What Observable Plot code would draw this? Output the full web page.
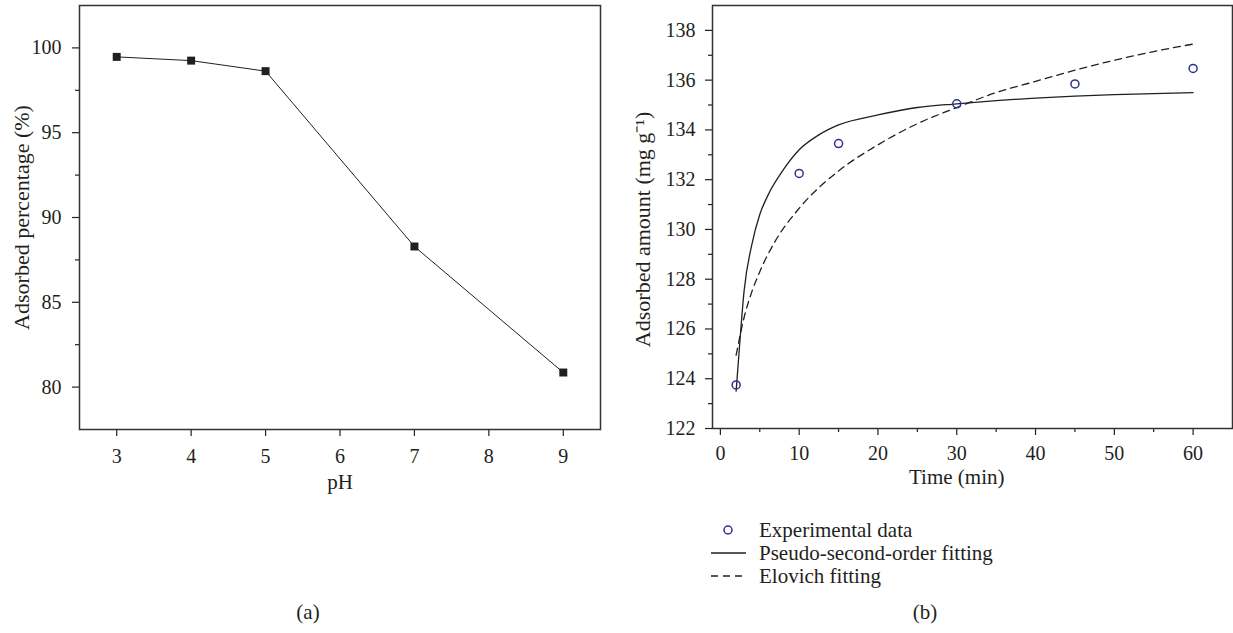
<!DOCTYPE html>
<html>
<head>
<meta charset="utf-8">
<script src="https://cdn.jsdelivr.net/npm/d3@7"></script>
<script src="https://cdn.jsdelivr.net/npm/@observablehq/plot@0.6"></script>
<style>
  html, body { margin: 0; padding: 0; background: #fff; }
  #page { position: relative; width: 1233px; height: 633px; overflow: hidden; font-family: "Liberation Serif", serif; color: #231f20; }
  #left, #right, #overlay { position: absolute; top: 0; }
  #left { left: 0; }
  #right { left: 616px; }
  #overlay { left: 0; }
  #page svg text { font-family: "Liberation Serif", serif !important; }
</style>
</head>
<body>
<div id="page">
  <div id="left"></div>
  <div id="right"></div>
  <svg id="overlay" width="1233" height="633"></svg>
</div>
<script>
// ---- Panel (a) data ----
const pH = [3, 4, 5, 7, 9];
const adsorbedPct = [99.47, 99.25, 98.63, 88.29, 80.86];
const pHTicks = [3, 4, 5, 6, 7, 8, 9];
const pctTicks = [80, 85, 90, 95, 100];
const pctMinorTicks = [82.5, 87.5, 92.5, 97.5];

// ---- Panel (b) data ----
const expTime = [2, 10, 15, 30, 45, 60];
const expAmount = [123.75, 132.25, 133.45, 135.05, 135.85, 136.47];
const psoTime = [2, 2.5, 3, 4, 5, 6, 8, 10, 12.5, 15, 20, 25, 30, 35, 40, 45, 50, 55, 60];
const psoAmount = [123.5, 125.6, 127.5, 129.4, 130.6, 131.35, 132.4, 133.2, 133.8, 134.2, 134.6, 134.9, 135.05, 135.18, 135.28, 135.36, 135.42, 135.46, 135.5];
const elovichTime = [2, 3, 4, 5, 7, 10, 15, 20, 25, 30, 35, 40, 45, 50, 55, 60];
const elovichAmount = [124.95, 126.45, 127.5, 128.3, 129.55, 130.85, 132.35, 133.4, 134.25, 134.9, 135.5, 135.95, 136.4, 136.8, 137.15, 137.45];
const timeTicks = [0, 10, 20, 30, 40, 50, 60];
const timeMinorTicks = [5, 15, 25, 35, 45, 55];
const amountTicks = [122, 124, 126, 128, 130, 132, 134, 136, 138];
const amountMinorTicks = [123, 125, 127, 129, 131, 133, 135, 137];

const legendLabels = ["Experimental data", "Pseudo-second-order fitting", "Elovich fitting"];
const panelLabels = ["(a)", "(b)"];

const INK = "#231f20";
const BLUE = "#2e3192";
const FONT = "Liberation Serif";

const tableA = pH.map((p, i) => ({pH: p, v: adsorbedPct[i]}));
const expData = expTime.map((t, i) => ({t, q: expAmount[i]}));
const psoData = psoTime.map((t, i) => ({t, q: psoAmount[i]}));
const eloData = elovichTime.map((t, i) => ({t, q: elovichAmount[i]}));

const mid = a => (d3.min(a) + d3.max(a)) / 2;

const axisCommon = {fontSize: 20, fontFamily: FONT, fill: INK, stroke: INK, label: null};

const plotA = Plot.plot({
  width: 616, height: 500,
  marginLeft: 79, marginRight: 16, marginTop: 5, marginBottom: 71,
  style: {fontFamily: FONT, color: INK, background: "transparent"},
  x: {domain: [2.5, 9.5], axis: null},
  y: {domain: [77.5, 102.5], axis: null},
  marks: [
    Plot.axisX(pHTicks, {...axisCommon, tickSize: 7, tickPadding: 12, strokeWidth: 1.2}),
    Plot.axisY(pctTicks, {...axisCommon, tickSize: 7, tickPadding: 11, strokeWidth: 1.2}),
    Plot.axisY(pctMinorTicks, {...axisCommon, tickSize: 4, tickFormat: () => "", strokeWidth: 1.2}),
    Plot.frame({stroke: "#333", strokeWidth: 1.5}),
    Plot.line(tableA, {x: "pH", y: "v", stroke: INK, strokeWidth: 1}),
    Plot.dot(tableA, {x: "pH", y: "v", symbol: "square", r: 4.5, fill: INK, stroke: "none"}),
    Plot.text(["pH"], {x: mid(pHTicks), frameAnchor: "bottom", dy: 59, fontSize: 21, fontFamily: FONT, fill: INK, text: d => d}),
    Plot.text(["Adsorbed percentage (%)"], {y: mid(pctTicks), frameAnchor: "left", textAnchor: "middle", dx: -58, rotate: -90, fontSize: 22, fontFamily: FONT, fill: INK, text: d => d})
  ]
});
document.getElementById("left").appendChild(plotA);

const plotB = Plot.plot({
  width: 617, height: 500,
  marginLeft: 96, marginRight: 1, marginTop: 5, marginBottom: 72,
  style: {fontFamily: FONT, color: INK, background: "transparent"},
  x: {domain: [-1, 65], axis: null},
  y: {domain: [122, 139], axis: null},
  marks: [
    Plot.axisX(timeTicks, {...axisCommon, tickSize: 7, tickPadding: 10, strokeWidth: 1.2}),
    Plot.axisX(timeMinorTicks, {...axisCommon, tickSize: 4, tickFormat: () => "", strokeWidth: 1.2}),
    Plot.axisY(amountTicks, {...axisCommon, tickSize: 7, tickPadding: 10, strokeWidth: 1.2}),
    Plot.axisY(amountMinorTicks, {...axisCommon, tickSize: 4, tickFormat: () => "", strokeWidth: 1.2}),
    Plot.frame({stroke: "#333", strokeWidth: 1.5}),
    Plot.line(psoData, {x: "t", y: "q", stroke: INK, strokeWidth: 1.3, curve: "monotone-x"}),
    Plot.line(eloData, {x: "t", y: "q", stroke: INK, strokeWidth: 1.3, strokeDasharray: "7,5", curve: "monotone-x"}),
    Plot.dot(expData, {x: "t", y: "q", r: 4, stroke: BLUE, strokeWidth: 1.5, fill: "none"}),
    Plot.text(["Time (min)"], {x: mid(timeTicks), frameAnchor: "bottom", dy: 55, fontSize: 21, fontFamily: FONT, fill: INK, text: d => d}),
    Plot.text(["Adsorbed amount (mg g\u207B\u00B9)"], {y: mid(amountTicks), frameAnchor: "left", textAnchor: "middle", dx: -70, rotate: -90, fontSize: 22, fontFamily: FONT, fill: INK, text: d => d})
  ]
});
document.getElementById("right").appendChild(plotB);

// ---- Legend and panel captions ----
const ov = d3.select("#overlay");
const lg = ov.append("g").attr("font-family", FONT).attr("font-size", 21).attr("fill", INK);
const rows = [530, 553, 576];
lg.append("circle").attr("cx", 728).attr("cy", rows[0]).attr("r", 4).attr("fill", "none").attr("stroke", BLUE).attr("stroke-width", 1.5);
lg.append("line").attr("x1", 711).attr("x2", 746).attr("y1", rows[1]).attr("y2", rows[1]).attr("stroke", INK).attr("stroke-width", 1.3);
lg.append("line").attr("x1", 711).attr("x2", 746).attr("y1", rows[2]).attr("y2", rows[2]).attr("stroke", INK).attr("stroke-width", 1.3).attr("stroke-dasharray", "7,5");
legendLabels.forEach((t, i) => {
  lg.append("text").attr("x", 759).attr("y", rows[i]).attr("dy", "0.35em").text(t);
});
const caps = ov.append("g").attr("font-family", FONT).attr("font-size", 21).attr("fill", INK).attr("text-anchor", "middle");
[308, 925].forEach((x, i) => caps.append("text").attr("x", x).attr("y", 612).attr("dy", "0.35em").text(panelLabels[i]));
</script>
</body>
</html>
